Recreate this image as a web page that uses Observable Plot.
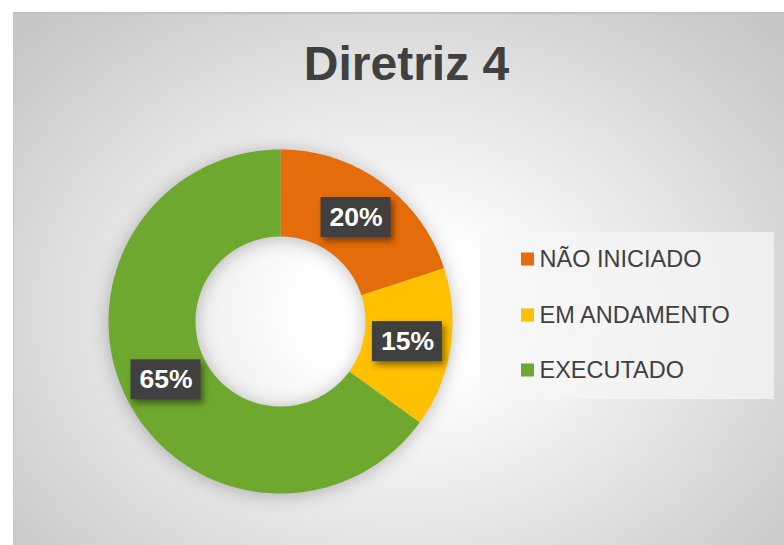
<!DOCTYPE html>
<html><head><meta charset="utf-8">
<script src="https://cdn.jsdelivr.net/npm/d3@7"></script>
<script src="https://cdn.jsdelivr.net/npm/@observablehq/plot@0.6"></script>
<style>
html,body{margin:0;padding:0;background:#fff;}
#wrap{position:relative;width:784px;height:545px;overflow:hidden;}
#panel{position:absolute;left:13px;top:12px;width:771px;height:533px;box-sizing:border-box;
  background:radial-gradient(ellipse 68% 76% at 50% 56%, #ffffff 0%, #ffffff 18%, #f3f3f3 35%, #e2e2e2 60%, #d0d0d0 85%, #c6c6c6 100%);
  border-top:2px solid #c2c2c2;border-left:1px solid #c6c6c6;}
#chart{position:absolute;left:0;top:0;}
</style></head>
<body>
<div id="wrap"><div id="panel"></div><div id="chart"></div></div>
<script>
const title = "Diretriz 4";
const categories = ["NÃO INICIADO", "EM ANDAMENTO", "EXECUTADO"];
const values = [20, 15, 65];
const labels = ["20%", "15%", "65%"];
const colors = ["#E46C0A", "#FFC000", "#6FA82F"];

// layout constants (pixels)
const W = 784, H = 545;
const cx = 280, cy = 321, R = 172, r0 = 85;

const data = categories.map((c, i) => ({cat: c, value: values[i], label: labels[i]}));
const arcs = d3.pie().sort(null).value(d => d.value)(data);
const pt = (a, rad) => ({x: cx + rad * Math.sin(a), y: cy - rad * Math.cos(a)});

const poly = [];
arcs.forEach(a => {
  const n = 120;
  for (let k = 0; k <= n; k++) {
    const t = a.startAngle + (a.endAngle - a.startAngle) * k / n;
    poly.push({cat: a.data.cat, ...pt(t, R)});
  }
  for (let k = n; k >= 0; k--) {
    const t = a.startAngle + (a.endAngle - a.startAngle) * k / n;
    poly.push({cat: a.data.cat, ...pt(t, r0)});
  }
});
const labelPts = arcs.map(a => ({label: a.data.label, ...pt((a.startAngle + a.endAngle) / 2, (R + r0) / 2)}));

const legX = 521, legRows = [259, 315, 370];
const legend = categories.map((c, i) => ({cat: c, y: legRows[i]}));

const plot = Plot.plot({
  width: W, height: H,
  margin: 0,
  x: {type: "identity", axis: null},
  y: {type: "identity", axis: null},
  color: {domain: categories, range: colors},
  style: {background: "none", fontFamily: "'Liberation Sans', Arial, sans-serif"},
  marks: [
    Plot.text([title], {x: 406, y: 64, text: d => d, fontSize: 48, fontWeight: "bold", fill: "#404040"}),
    Plot.line(poly, {x: "x", y: "y", z: "cat", fill: "cat", stroke: null, curve: "linear"}),
    Plot.rect(labelPts, {x1: d => d.x - 35, x2: d => d.x + 35, y1: d => d.y - 20, y2: d => d.y + 20, fill: "#404040"}),
    Plot.text(labelPts, {x: "x", y: "y", text: "label", fill: "white", fontSize: 26.5, fontWeight: "bold"}),
    Plot.rect([0], {x1: 480, x2: 774, y1: 232, y2: 399, fill: "#f5f5f5", fillOpacity: 0.75}),
    Plot.rect(legend, {x1: legX, x2: legX + 13, y1: d => d.y - 6.5, y2: d => d.y + 6.5, fill: "cat"}),
    Plot.text(legend, {x: legX + 18, y: "y", text: "cat", textAnchor: "start", fontSize: 23.5, fill: "#404040"})
  ]
});
document.getElementById("chart").appendChild(plot);
const sel = d3.select(plot);
sel.selectAll("g[aria-label=line]").style("filter", "drop-shadow(0px 2px 9px rgba(0,0,0,0.25))");
sel.selectAll("g[aria-label=rect]").filter((d, i) => i === 0).style("filter", "drop-shadow(3px 4px 3px rgba(0,0,0,0.45))");
</script>
</body></html>
